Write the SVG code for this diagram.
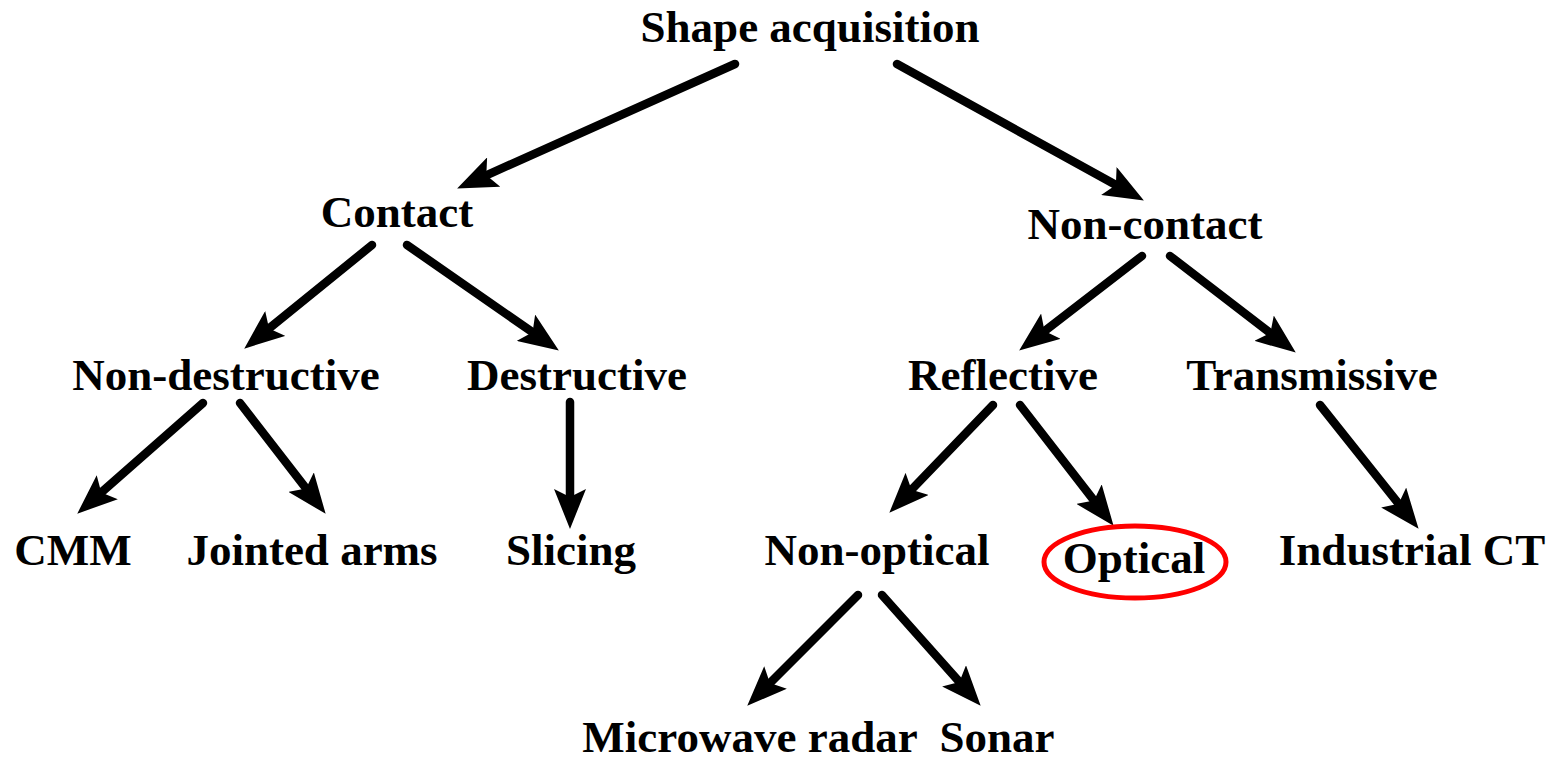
<svg xmlns="http://www.w3.org/2000/svg" width="1553" height="761" viewBox="0 0 1553 761">
<style>
text{font-family:"Liberation Serif","Times New Roman",serif;font-weight:bold;font-size:45px;fill:#000;text-anchor:middle}
.c line{stroke:#000;stroke-width:8.5;stroke-linecap:round;marker-end:url(#ah)}
</style>
<defs>
<marker id="ah" viewBox="0 0 40 32" markerWidth="40" markerHeight="32" refX="19" refY="16" orient="auto" markerUnits="userSpaceOnUse">
<path d="M0,0 L40,16 L0,32 L8,16 z" fill="#000"/>
</marker>
</defs>
<rect width="1553" height="761" fill="#fff"/>
<g class="c" id="connectors">
<line x1="735" y1="64" x2="476.3" y2="179.8"/>
<line x1="897" y1="64" x2="1125.5" y2="190.3"/>
<line x1="372" y1="245" x2="260.5" y2="335.4"/>
<line x1="407" y1="245" x2="541.6" y2="338.6"/>
<line x1="1142" y1="256" x2="1035.8" y2="337.8"/>
<line x1="1170" y1="256" x2="1279.1" y2="339.8"/>
<line x1="203" y1="403" x2="93" y2="499.8"/>
<line x1="240" y1="403" x2="312.8" y2="497.2"/>
<line x1="570" y1="402" x2="570" y2="508"/>
<line x1="993" y1="405" x2="903.9" y2="497.6"/>
<line x1="1020" y1="405" x2="1100.7" y2="509.2"/>
<line x1="1320" y1="405" x2="1405.5" y2="512.4"/>
<line x1="858" y1="595" x2="762.1" y2="690.9"/>
<line x1="882" y1="595" x2="966.7" y2="690.1"/>
</g>
<g id="n-shape"><text x="810" y="42">Shape acquisition</text></g>
<g id="n-contact"><text x="397" y="227">Contact</text></g>
<g id="n-noncontact"><text x="1145" y="239">Non-contact</text></g>
<g id="n-nondestructive"><text x="226" y="390">Non-destructive</text></g>
<g id="n-destructive"><text x="577" y="390">Destructive</text></g>
<g id="n-reflective"><text x="1003" y="390">Reflective</text></g>
<g id="n-transmissive"><text x="1312" y="390">Transmissive</text></g>
<g id="n-cmm"><text x="73" y="565">CMM</text></g>
<g id="n-jointed"><text x="312" y="565">Jointed arms</text></g>
<g id="n-slicing"><text x="571" y="565">Slicing</text></g>
<g id="n-nonoptical"><text x="877" y="565">Non-optical</text></g>
<g id="n-optical"><ellipse cx="1135" cy="562" rx="91" ry="36" fill="none" stroke="#f00" stroke-width="5"/><text x="1134" y="573">Optical</text></g>
<g id="n-ct"><text x="1412" y="565">Industrial CT</text></g>
<g id="n-microwave"><text x="750" y="752">Microwave radar</text></g>
<g id="n-sonar"><text x="997" y="752">Sonar</text></g>
</svg>
